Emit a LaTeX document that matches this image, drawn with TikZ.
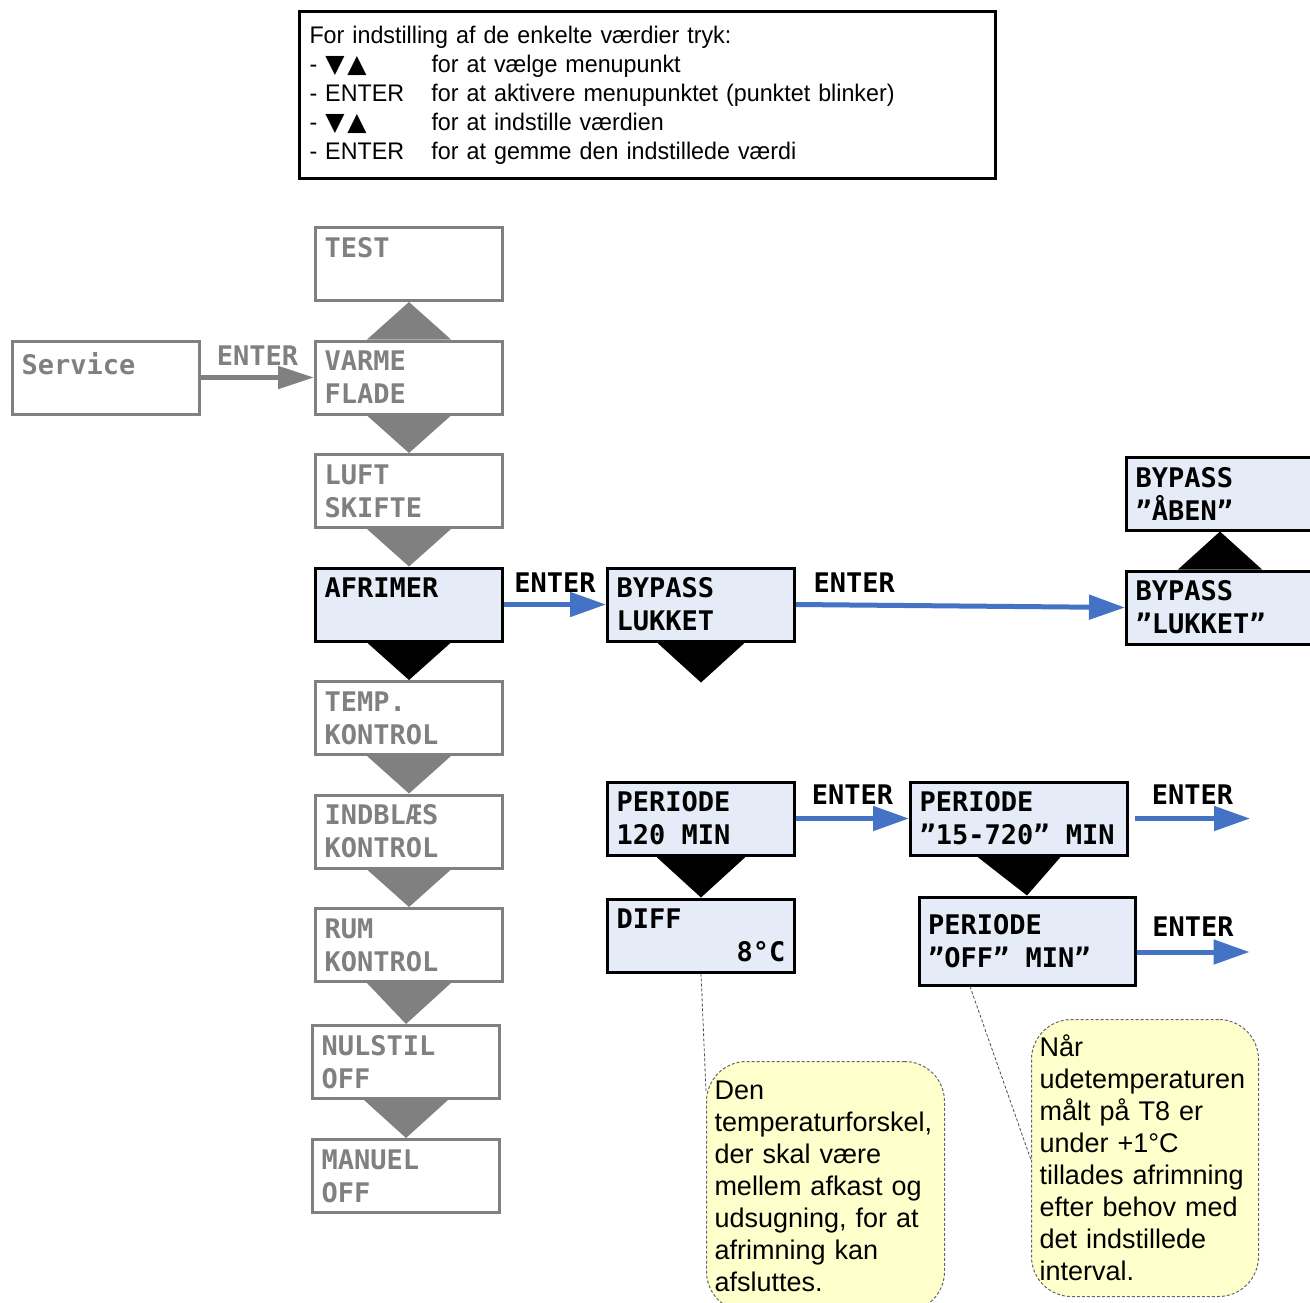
\documentclass[tikz,border=0pt]{standalone}
\usepackage{fontspec}
\setmainfont{Liberation Sans}
\newfontfamily\infofont{Liberation Sans}[FakeStretch=0.97]
\newfontfamily\symfont{DejaVu Sans}
\newfontfamily\menufont{DejaVu Sans Mono}
\usetikzlibrary{positioning,arrows.meta}
\definecolor{menugrey}{RGB}{128,128,128}
\definecolor{menublue}{RGB}{229,236,247}
\definecolor{enterblue}{RGB}{68,114,196}
\definecolor{noteyellow}{RGB}{255,255,204}
\newcommand{\keycol}[1]{\makebox[122pt][l]{#1}}
\newcommand{\updown}{- {\symfont\fontsize{25}{29}\selectfont▼\kern3pt▲}}
\newcommand{\msp}{\hspace{16.26pt}}
\DeclareRobustCommand{\menutext}{\menufont\bfseries\fontsize{27}{33}\selectfont}

\begin{document}
\begin{tikzpicture}[x=1pt,y=-1pt,
infobox/.style={rectangle, draw=black, line width=3pt, minimum width=696pt, minimum height=167pt, text width=676pt, inner xsep=10pt, align=left, font=\infofont\fontsize{24}{29}\selectfont},
greybox/.style={rectangle, draw=menugrey, line width=3pt, text=menugrey, fill=white, minimum width=187pt, minimum height=73pt, text width=169pt, inner xsep=9pt, align=left, font=\menutext},
bluebox/.style={greybox, draw=black, text=black, fill=menublue},
enterlbl/.style={font=\menutext, inner sep=0pt},
enterarrow/.style={draw=enterblue, line width=5pt, -{Triangle[length=36pt,width=24pt]}},
greyarrow/.style={draw=menugrey, line width=5pt, -{Triangle[length=36pt,width=22pt]}},
note/.style={rectangle, rounded corners=40pt, draw=black!60, dash pattern=on 3pt off 2pt, line width=1pt, fill=noteyellow, anchor=north west, align=left, inner xsep=8pt, font=\fontsize{27}{32}\selectfont},
connector/.style={draw=black!70, dash pattern=on 3pt off 2pt, line width=0.8pt}
]
\useasboundingbox (0,0) rectangle (1310,1302);

\node[infobox] (info) at (647.5,95) {For indstilling af de enkelte værdier tryk:\\
\keycol{\updown}for at vælge menupunkt\\
\keycol{- ENTER}for at aktivere menupunktet (punktet blinker)\\
\keycol{\updown}for at indstille værdien\\
\keycol{- ENTER}for at gemme den indstillede værdi};

\node[greybox] (test) at (409,264) {TEST\\~};
\node[greybox] (varme) [below=37.5pt of test] {VARME\\FLADE};
\node[greybox] (luft) [below=37.5pt of varme] {LUFT\\SKIFTE};
\node[bluebox] (afrimer) [below=37.5pt of luft] {AFRIMER\\~};
\node[greybox] (temp) [below=37.5pt of afrimer] {TEMP.\\KONTROL};
\node[greybox] (indblaes) [below=37.5pt of temp] {INDBLÆS\\KONTROL};
\node[greybox] (rum) [below=37.5pt of indblaes] {RUM\\KONTROL};
\node[greybox] (nulstil) [below=41pt of rum, xshift=-3pt] {NULSTIL\\OFF};
\node[greybox] (manuel) [below=38pt of nulstil] {MANUEL\\OFF};
\node[greybox] (service) [left=113pt of varme] {\raisebox{-5pt}{Service}\\~};

\node[bluebox] (bypass) [right=102pt of afrimer] {BYPASS\\LUKKET};
\node[bluebox] (lukketq) [right=329pt of bypass, yshift=-3pt] {BYPASS\\”LUKKET”};
\node[bluebox] (aaben) [above=38pt of lukketq] {BYPASS\\”ÅBEN”};
\coordinate[below=40pt of bypass] (bypassdn);

\node[bluebox] (periode) [below=138pt of bypass] {PERIODE\\120\msp MIN};
\node[bluebox] (diff) [below=41pt of periode] {DIFF\\\makebox[\linewidth][r]{8°C}};
\node[bluebox, minimum width=217pt, text width=199pt] (p15) [right=113pt of periode] {PERIODE\\”15-720”\msp MIN};
\node[bluebox, minimum width=216pt, text width=198pt, minimum height=88pt] (off) [below=39pt of p15, xshift=8pt] {PERIODE\\”OFF”\msp MIN”};
\coordinate[right=121pt of p15] (p15out);
\coordinate (offin) at ([yshift=-11pt]off.east);
\coordinate[right=113pt of offin] (offout);

\fill[menugrey] ([xshift=-42pt]varme.north) -- ([xshift=42pt]varme.north) -- (test.south) -- cycle;
\foreach \a/\b in {varme/luft, luft/afrimer, temp/indblaes, indblaes/rum, rum/nulstil, nulstil/manuel}
  \fill[menugrey] ([xshift=-42pt]\a.south) -- ([xshift=42pt]\a.south) -- (\b.north) -- cycle;
\fill ([xshift=-42pt]afrimer.south) -- ([xshift=42pt]afrimer.south) -- (temp.north) -- cycle;
\fill ([xshift=-44pt]bypass.south) -- ([xshift=44pt]bypass.south) -- (bypassdn) -- cycle;
\fill ([xshift=-42pt]lukketq.north) -- ([xshift=42pt]lukketq.north) -- (aaben.south) -- cycle;
\fill ([xshift=-45pt]periode.south) -- ([xshift=45pt]periode.south) -- (diff.north) -- cycle;
\fill ([xshift=-42pt]p15.south) -- ([xshift=42pt]p15.south) -- (off.north) -- cycle;

\draw[greyarrow] (service.east) -- node[enterlbl, text=menugrey, above=10pt] {ENTER} (varme.west);
\draw[enterarrow] (afrimer.east) -- node[enterlbl, above=10pt] {ENTER} (bypass.west);
\draw[enterarrow] (bypass.east) -- node[enterlbl, pos=0, above right=10pt and 15pt] {ENTER} (lukketq.west);
\draw[enterarrow] (periode.east) -- node[enterlbl, above=12pt] {ENTER} (p15.west);
\draw[enterarrow] ([xshift=6pt]p15.east) -- node[enterlbl, above=12pt] {ENTER} (p15out);
\draw[enterarrow] (offin) -- node[enterlbl, above=13pt] {ENTER} (offout);

\node[note, minimum width=238pt, minimum height=250pt, text width=222pt] (note1) at (706,1061) {Den\\temperaturforskel,\\der skal være\\mellem afkast og\\udsugning, for at\\afrimning kan\\afsluttes.};
\node[note, minimum width=227pt, minimum height=277pt, text width=211pt] (note2) at (1031,1019) {Når\\udetemperaturen\\målt på T8 er\\under +1°C\\tillades afrimning\\efter behov med\\det indstillede\\interval.};

\draw[connector] (diff.south) -- ([yshift=-30pt]note1.north west);
\draw[connector] ([xshift=-57pt]off.south) -- ([yshift=-141pt]note2.north west);
\end{tikzpicture}
\end{document}
